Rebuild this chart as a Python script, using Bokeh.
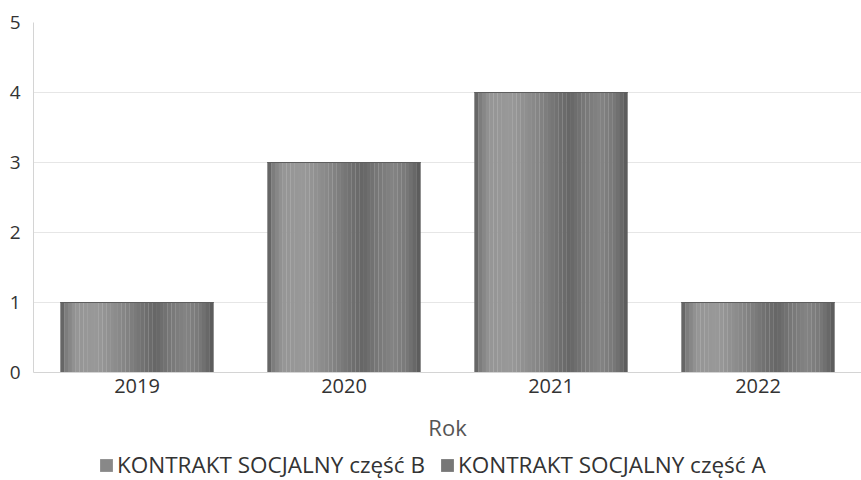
from bokeh.plotting import figure
from bokeh.models import Legend, LegendItem, FactorRange, Range1d, ColumnDataSource
from bokeh.layouts import column
from bokeh.transform import dodge
from bokeh.embed import file_html
from bokeh.resources import INLINE

years = ["2019", "2020", "2021", "2022"]
part_b = [1, 3, 4, 1]
part_a = [0, 0, 0, 0]
series_names = ["KONTRAKT SOCJALNY część B", "KONTRAKT SOCJALNY część A"]
y_ticks = [0, 1, 2, 3, 4, 5]

src = ColumnDataSource(dict(
    year=years,
    part_b=part_b,
    part_a=part_a,
    a_top=[b + a for b, a in zip(part_b, part_a)],
))

FONT = "Open Sans"
W = 861
p = figure(x_range=FactorRange(*years, range_padding=0), y_range=Range1d(0, 5),
           width=W, height=444, output_backend="svg", toolbar_location=None,
           min_border_left=33, min_border_right=0, min_border_top=22, min_border_bottom=72)

# cylinder-like shading profile (position across bar 0..1, gray level)
keys = [(0.0, 0x58), (0.03, 0x7a), (0.10, 0x96), (0.25, 0x98), (0.40, 0x88),
        (0.55, 0x70), (0.62, 0x66), (0.72, 0x78), (0.82, 0x84), (0.92, 0x76),
        (0.98, 0x62), (1.0, 0x55)]

def shade(t):
    for (t0, g0), (t1, g1) in zip(keys[:-1], keys[1:]):
        if t0 <= t <= t1:
            g = int(round(g0 + (g1 - g0) * (t - t0) / (t1 - t0)))
            return "#%02x%02x%02x" % (g, g, g)
    return "#808080"

bar_w = 0.74
n = 40
sw = bar_w / n
for i in range(n):
    c = shade((i + 0.5) / n)
    off = -bar_w / 2 + sw * (i + 0.5)
    p.vbar(x=dodge("year", off, range=p.x_range), top="part_b", bottom=0, width=sw * 1.05,
           source=src, fill_color=c, line_color=None)
    p.vbar(x=dodge("year", off, range=p.x_range), top="a_top", bottom="part_b", width=sw * 1.05,
           source=src, fill_color=c, line_color=None)
# thin darker top edge
p.vbar(x="year", top="a_top", bottom="a_top", width=bar_w, source=src,
       fill_color=None, line_color="#5e5e5e", line_width=1)

p.yaxis.ticker = y_ticks
p.yaxis.axis_line_color = "#d4d4d4"
p.yaxis.major_tick_line_color = None
p.yaxis.minor_tick_line_color = None
p.yaxis.major_label_text_font = FONT
p.yaxis.major_label_text_font_size = "19px"
p.yaxis.major_label_text_color = "#333333"
p.yaxis.major_label_standoff = 7

p.xaxis.axis_line_color = "#d4d4d4"
p.xaxis.major_tick_line_color = None
p.xaxis.major_label_text_font = FONT
p.xaxis.major_label_text_font_size = "20px"
p.xaxis.major_label_text_color = "#333333"
p.xaxis.major_label_standoff = 0
p.xaxis.axis_label = "Rok"
p.xaxis.axis_label_text_font = FONT
p.xaxis.axis_label_text_font_size = "22px"
p.xaxis.axis_label_text_font_style = "normal"
p.xaxis.axis_label_text_color = "#555555"
p.xaxis.axis_label_standoff = 16

p.xgrid.grid_line_color = None
p.ygrid.grid_line_color = "#e6e6e6"
p.outline_line_color = None

# legend strip below the chart
lg = figure(x_range=p.x_range, y_range=Range1d(0, 1), width=W, height=36,
            output_backend="svg", toolbar_location=None, x_axis_type=None, y_axis_type=None,
            min_border=0)
lg.grid.grid_line_color = None
lg.outline_line_color = None
lb = lg.vbar(x="year", top=0, bottom=0, width=0.0, source=src,
             fill_color="#888888", line_color=None)
la = lg.vbar(x="year", top=0, bottom=0, width=0.0, source=src,
             fill_color="#777777", line_color=None)
legend = Legend(items=[LegendItem(label=series_names[0], renderers=[lb]),
                       LegendItem(label=series_names[1], renderers=[la])],
                orientation="horizontal", location=(65, 0),
                label_text_font=FONT, label_text_font_size="22.5px", label_text_color="#333333",
                glyph_width=16, glyph_height=16, spacing=14, label_standoff=3,
                padding=2, margin=0, border_line_color=None, background_fill_alpha=0)
lg.add_layout(legend, "center")

layout = column(p, lg, spacing=0)
open("out.html", "w").write(file_html(layout, INLINE))
